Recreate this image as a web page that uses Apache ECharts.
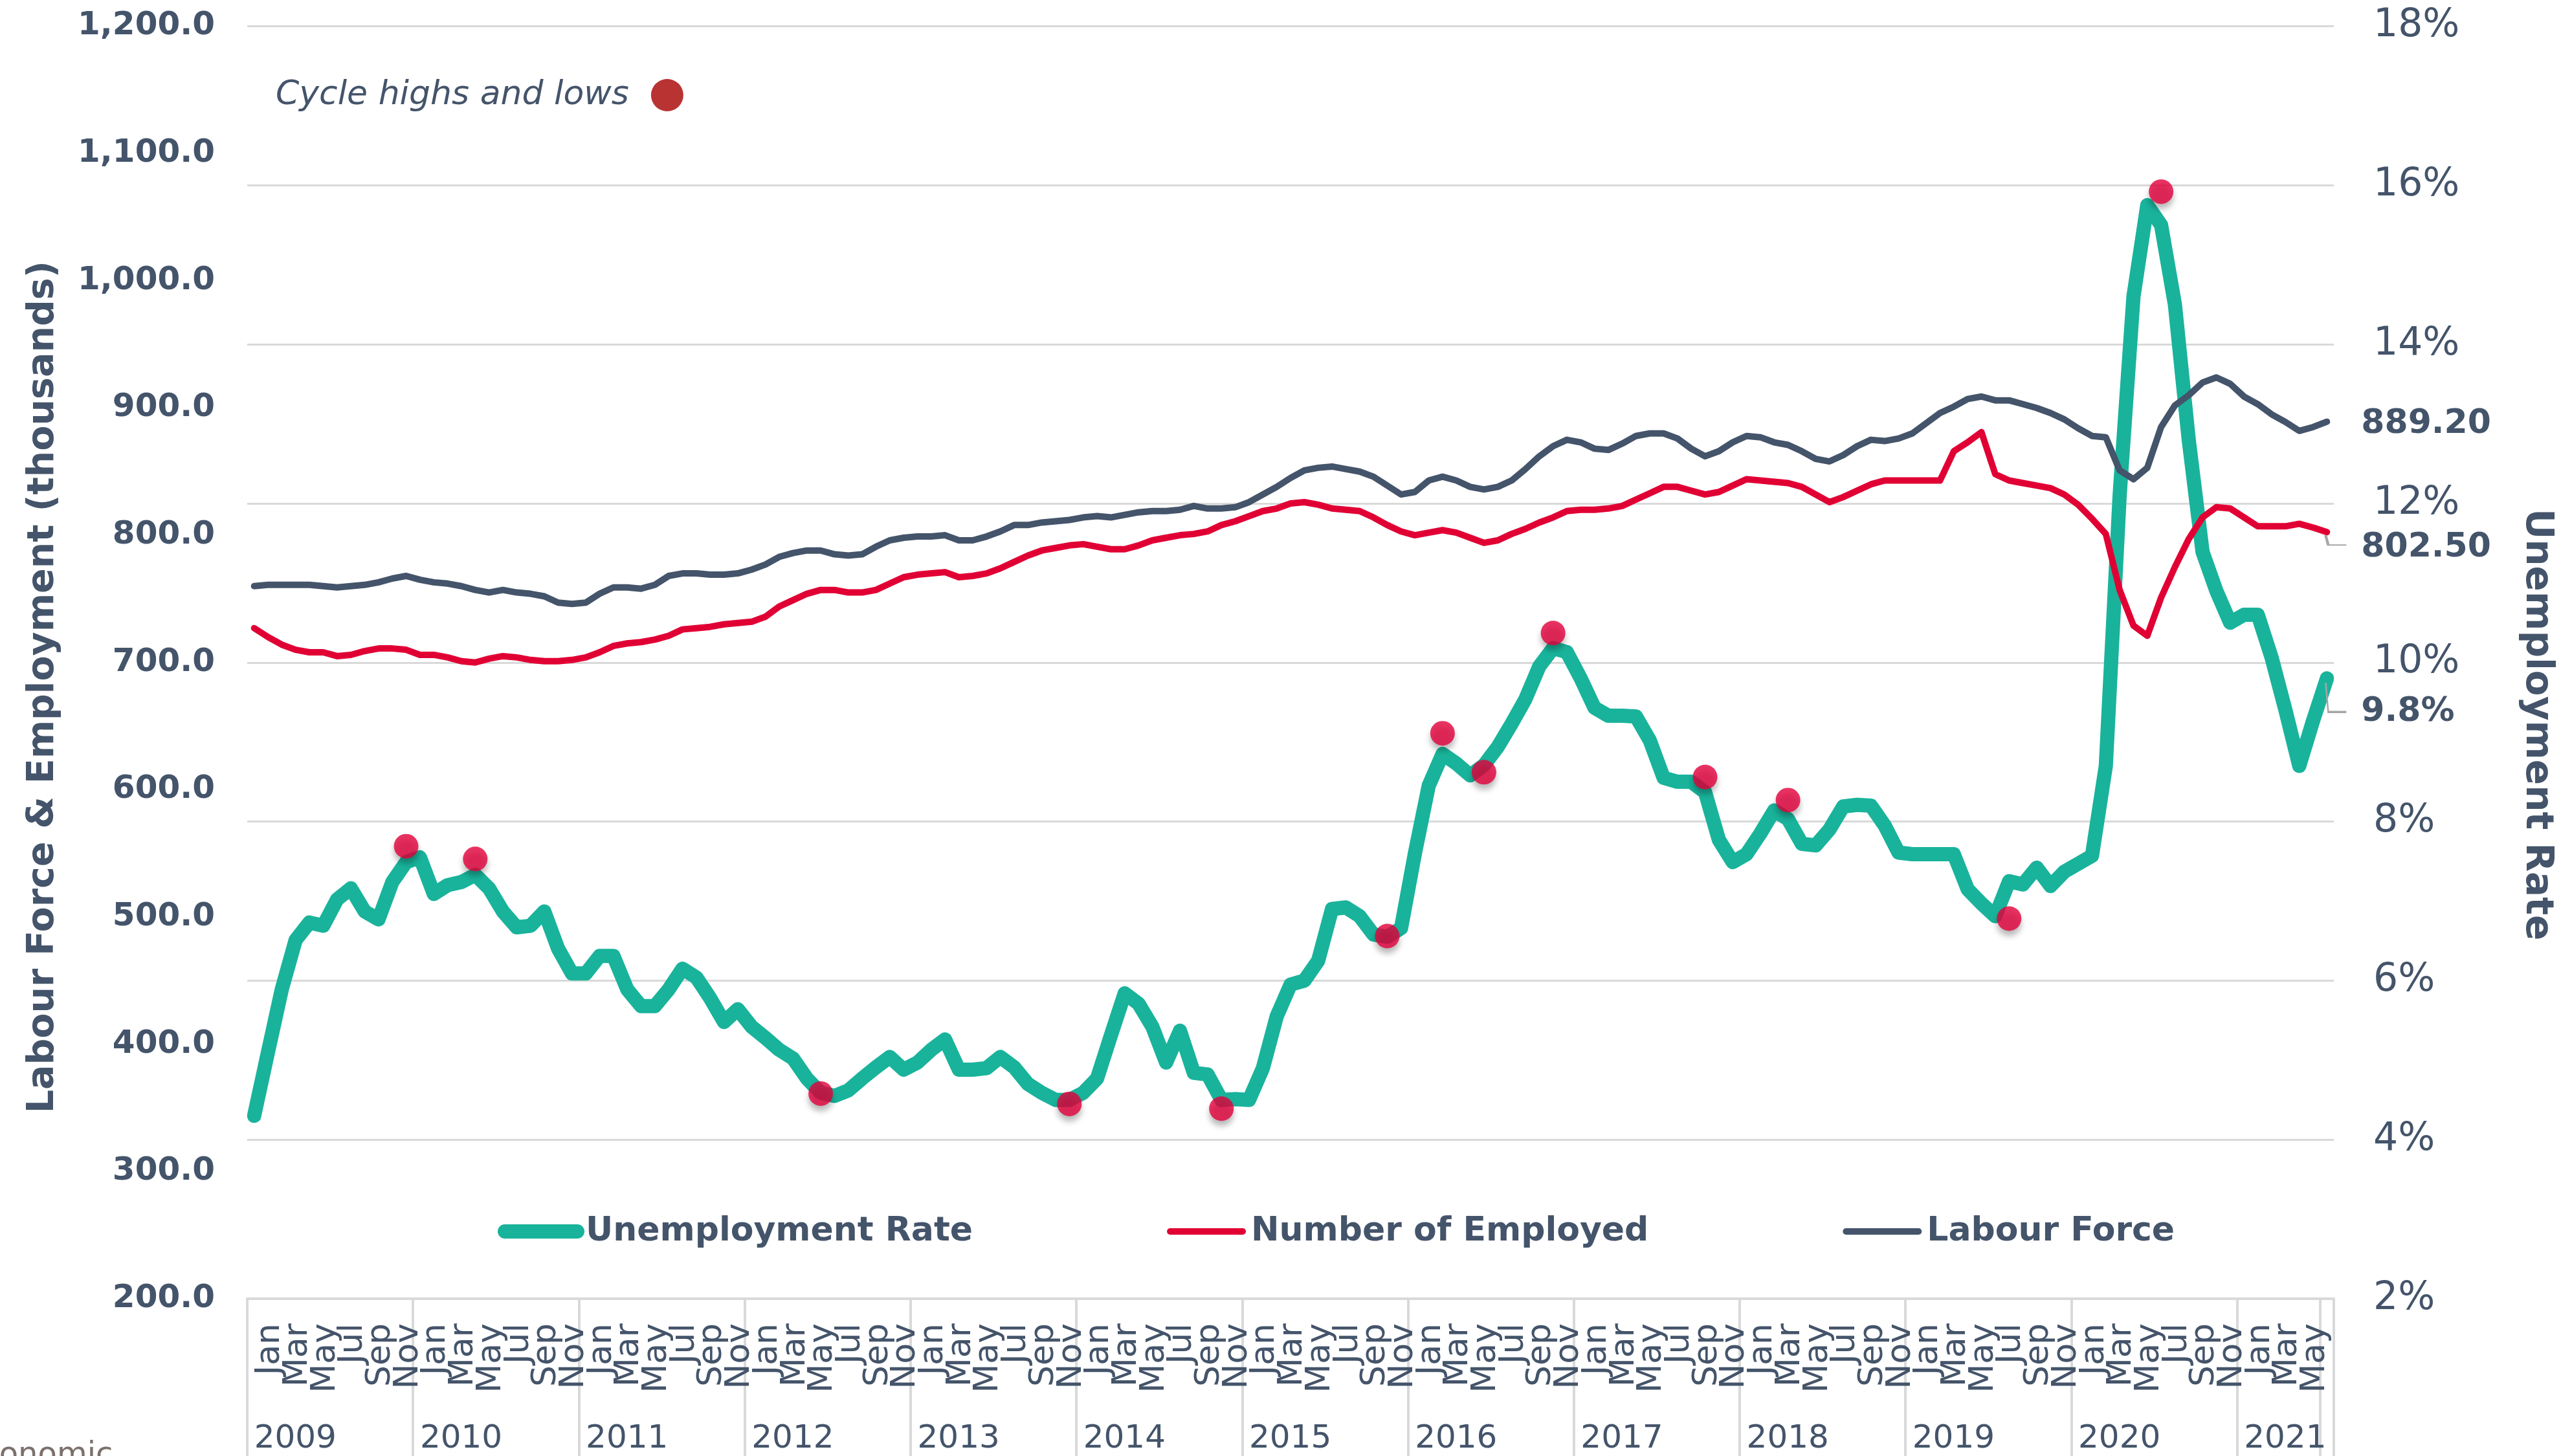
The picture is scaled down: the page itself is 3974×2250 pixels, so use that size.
<!DOCTYPE html>
<html>
<head>
<meta charset="utf-8">
<script src="https://cdn.jsdelivr.net/npm/echarts@6/dist/echarts.min.js"></script>
<style>
  html, body { margin: 0; padding: 0; background: #fff; }
  #chart { width: 3974px; height: 2250px; }
</style>
</head>
<body>
<div id="chart"></div>
<script>
// tick labels
const monthNames = ["Jan", "Feb", "Mar", "Apr", "May", "Jun", "Jul", "Aug", "Sep", "Oct", "Nov", "Dec"];
const years = [2009, 2010, 2011, 2012, 2013, 2014, 2015, 2016, 2017, 2018, 2019, 2020, 2021];
const monthsIn2021 = 7;

// unemployment rate (%), Jan 2009 .. Jul 2021
const unemploymentRate = [
  4.3, 5.1, 5.89, 6.51, 6.73, 6.69, 7.02, 7.16, 6.87, 6.77, 7.24, 7.49,
  7.55, 7.09, 7.2, 7.24, 7.33, 7.16, 6.87, 6.67, 6.69, 6.87, 6.4, 6.09,
  6.09, 6.31, 6.31, 5.89, 5.68, 5.68, 5.89, 6.15, 6.04, 5.78, 5.48, 5.64,
  5.42, 5.28, 5.13, 5.02, 4.77, 4.59, 4.55, 4.62, 4.77, 4.91, 5.04, 4.88,
  4.97, 5.13, 5.26, 4.88, 4.88, 4.9, 5.04, 4.91, 4.7, 4.59, 4.5, 4.5,
  4.59, 4.77, 5.31, 5.84, 5.71, 5.42, 4.97, 5.37, 4.84, 4.82, 4.5, 4.51,
  4.5, 4.9, 5.55, 5.95, 6.0, 6.25, 6.9, 6.92, 6.81, 6.58, 6.55, 6.66,
  7.6, 8.45, 8.85, 8.73, 8.58, 8.71, 8.94, 9.23, 9.54, 9.95, 10.18, 10.13,
  9.8, 9.43, 9.33, 9.33, 9.32, 9.02, 8.55, 8.5, 8.5, 8.37, 7.77, 7.49,
  7.59, 7.85, 8.14, 8.03, 7.72, 7.7, 7.9, 8.19, 8.21, 8.2, 7.95, 7.61,
  7.59, 7.59, 7.59, 7.59, 7.15, 6.97, 6.81, 7.25, 7.21, 7.42, 7.19, 7.37,
  7.47, 7.57, 8.7, 12.1, 14.6, 15.75, 15.5, 14.5, 12.8, 11.39, 10.9, 10.5,
  10.6, 10.6, 10.06, 9.4, 8.7, 9.27, 9.8
];

// number of employed (thousands)
const employed = [
  727, 720, 714, 710, 708, 708, 705, 706, 709, 711, 711, 710,
  706, 706, 704, 701, 700, 703, 705, 704, 702, 701, 701, 702,
  704, 708, 713, 715, 716, 718, 721, 726, 727, 728, 730, 731,
  732, 736, 744, 749, 754, 757, 757, 755, 755, 757, 762, 767,
  769, 770, 771, 767, 768, 770, 774, 779, 784, 788, 790, 792,
  793, 791, 789, 789, 792, 796, 798, 800, 801, 803, 808, 811,
  815, 819, 821, 825, 826, 824, 821, 820, 819, 814, 808, 803,
  800, 802, 804, 802, 798, 794, 796, 801, 805, 810, 814, 819,
  820, 820, 821, 823, 828, 833, 838, 838, 835, 832, 834, 839,
  844, 843, 842, 841, 838, 832, 826, 830, 835, 840, 843, 843,
  843, 843, 843, 866, 873, 881, 848, 843, 841, 839, 837, 832,
  824, 813, 801, 757, 729, 721, 751, 775, 797, 814, 822, 821,
  814, 807, 807, 807, 809, 806, 802.5
];

// labour force (thousands)
const labourForce = [
  760, 761, 761, 761, 761, 760, 759, 760, 761, 763, 766, 768,
  765, 763, 762, 760, 757, 755, 757, 755, 754, 752, 747, 746,
  747, 754, 759, 759, 758, 761, 768, 770, 770, 769, 769, 770,
  773, 777, 783, 786, 788, 788, 785, 784, 785, 791, 796, 798,
  799, 799, 800, 796, 796, 799, 803, 808, 808, 810, 811, 812,
  814, 815, 814, 816, 818, 819, 819, 820, 823, 821, 821, 822,
  826, 832, 838, 845, 851, 853, 854, 852, 850, 846, 839, 832,
  834, 843, 846, 843, 838, 836, 838, 843, 852, 862, 870, 875,
  873, 868, 867, 872, 878, 880, 880, 876, 868, 862, 866, 873,
  878, 877, 873, 871, 866, 860, 858, 863, 870, 875, 874, 876,
  880, 888, 896, 901, 907, 909, 906, 906, 903, 900, 896, 891,
  884, 878, 877, 851, 844, 853, 885, 902, 910, 920, 924, 919,
  909, 903, 895, 889, 882, 885, 889.2
];

// cycle highs and lows (month index from Jan 2009, rate %)
const cycleMonths = [11, 16, 41, 59, 70, 82, 86, 89, 94, 105, 111, 127, 138];
const cycleValues = [7.69, 7.53, 4.58, 4.45, 4.39, 6.56, 9.11, 8.62, 10.37, 8.56, 8.27, 6.78, 15.92];

const categories = [];
years.forEach(function (y, k) {
  const n = k === years.length - 1 ? monthsIn2021 : 12;
  for (let m = 0; m < n; m++) categories.push(monthNames[m] + " " + y);
});
const lastIdx = categories.length - 1;

const textColor = "#44546a";
const gridColor = "#d9d9d9";
const font = "DejaVu Sans";

function fmtThousands(v) {
  return v.toFixed(1).replace(/\B(?=(\d{3})+(?!\d))/g, ",");
}

const chart = echarts.init(document.getElementById("chart"));

const option = {
  animation: false,
  backgroundColor: "#fff",
  textStyle: { fontFamily: font },
  grid: {
    left: 382,
    right: 368,
    top: 40.5,
    bottom: 243,
    containLabel: false,
    outerBoundsMode: "none"
  },
  legend: [
    {
      data: ["Unemployment Rate", "Number of Employed", "Labour Force"],
      left: 764,
      top: 1872,
      itemWidth: 112,
      itemHeight: 24,
      itemGap: 300,
      itemStyle: { opacity: 0, borderWidth: 0 },
      lineStyle: { width: "inherit", cap: "inherit" },
      textStyle: { color: textColor, fontSize: 52, fontWeight: "bold", fontFamily: font, padding: [0, 0, 0, 8] }
    },
    {
      data: [{
        name: "Cycle highs and lows",
        icon: "circle",
        itemStyle: { color: "#a80000", shadowBlur: 0, shadowOffsetY: 0, shadowColor: "transparent" }
      }],
      align: "right",
      left: 421,
      top: 116,
      itemWidth: 108,
      itemHeight: 50,
      textStyle: { color: textColor, fontSize: 52, fontStyle: "italic", fontFamily: font }
    }
  ],
  xAxis: [
    {
      type: "category",
      data: categories,
      boundaryGap: true,
      axisLine: { show: true, lineStyle: { color: gridColor, width: 4 } },
      axisTick: {
        show: true,
        length: 245,
        interval: function (idx) { return idx % 12 === 0 || idx === lastIdx; },
        lineStyle: { color: gridColor, width: 4 }
      },
      axisLabel: {
        interval: 0,
        formatter: function (v, idx) {
          return idx % 2 === 0 && idx !== lastIdx ? v.split(" ")[0] : "";
        },
        rotate: 90,
        margin: 38,
        verticalAlign: "top",
        lineHeight: 50,
        hideOverlap: false,
        color: textColor,
        fontSize: 52,
        fontFamily: font
      },
      splitLine: { show: false }
    },
    {
      type: "category",
      data: categories,
      position: "bottom",
      boundaryGap: true,
      axisLine: { show: false },
      axisTick: { show: false },
      axisLabel: {
        interval: 0,
        formatter: function (v, idx) { return idx % 12 === 0 ? v.split(" ")[1] : ""; },
        align: "left",
        margin: 192,
        hideOverlap: false,
        color: textColor,
        fontSize: 50,
        fontFamily: font
      },
      splitLine: { show: false }
    }
  ],
  yAxis: [
    {
      type: "value",
      min: 200,
      max: 1200,
      interval: 100,
      position: "left",
      name: "Labour Force & Employment (thousands)",
      nameLocation: "middle",
      nameGap: 286,
      nameTextStyle: { color: textColor, fontSize: 57, fontWeight: "bold", fontFamily: font, padding: [0, 76, 0, 0] },
      axisLine: { show: false },
      axisTick: { show: false },
      splitLine: { show: false },
      axisLabel: {
        formatter: fmtThousands,
        margin: 50,
        color: textColor,
        fontSize: 50,
        fontWeight: "bold",
        fontFamily: font
      }
    },
    {
      type: "value",
      min: 2,
      max: 18,
      interval: 2,
      position: "right",
      name: "Unemployment Rate",
      nameLocation: "middle",
      nameRotate: -90,
      nameGap: 284,
      nameTextStyle: { color: textColor, fontSize: 58, fontWeight: "bold", fontFamily: font, padding: [0, 0, 0, 192] },
      axisLine: { show: false },
      axisTick: { show: false },
      splitLine: { show: true, lineStyle: { color: gridColor, width: 3 } },
      axisLabel: {
        formatter: "{value}%",
        margin: 61,
        color: textColor,
        fontSize: 60,
        fontFamily: font
      }
    }
  ],
  series: [
    {
      name: "Unemployment Rate",
      type: "line",
      yAxisIndex: 1,
      data: unemploymentRate,
      symbol: "none",
      z: 2,
      itemStyle: { color: "#19b39b" },
      lineStyle: { color: "#19b39b", width: 22, cap: "round", join: "round" },
      endLabel: {
        show: true,
        formatter: function (p) { return p.value.toFixed(1) + "%"; },
        distance: 53,
        offset: [0, 52],
        color: textColor,
        fontSize: 52,
        fontWeight: "bold",
        fontFamily: font
      },
      markPoint: {
        silent: true,
        symbol: "path://M0,0 L4,45 L32,45",
        symbolSize: [32, 45],
        symbolOffset: [14, 29.5],
        itemStyle: { color: "transparent", borderColor: "#a6a6a6", borderWidth: 3 },
        label: { show: false },
        data: [{ coord: [categories[lastIdx], unemploymentRate[lastIdx]] }]
      }
    },
    {
      name: "Number of Employed",
      type: "line",
      yAxisIndex: 0,
      data: employed,
      symbol: "none",
      z: 2,
      itemStyle: { color: "#e10034" },
      lineStyle: { color: "#e10034", width: 10, cap: "round", join: "round" },
      endLabel: {
        show: true,
        formatter: function (p) { return p.value.toFixed(2); },
        distance: 53,
        offset: [0, 24],
        color: textColor,
        fontSize: 52,
        fontWeight: "bold",
        fontFamily: font
      },
      markPoint: {
        silent: true,
        symbol: "path://M0,0 L4,15 L32,15",
        symbolSize: [32, 15],
        symbolOffset: [14, 12.5],
        itemStyle: { color: "transparent", borderColor: "#a6a6a6", borderWidth: 3 },
        label: { show: false },
        data: [{ coord: [categories[lastIdx], employed[lastIdx]] }]
      }
    },
    {
      name: "Labour Force",
      type: "line",
      yAxisIndex: 0,
      data: labourForce,
      symbol: "none",
      z: 2,
      itemStyle: { color: textColor },
      lineStyle: { color: textColor, width: 10, cap: "round", join: "round" },
      endLabel: {
        show: true,
        formatter: function (p) { return p.value.toFixed(2); },
        distance: 53,
        offset: [0, 4],
        color: textColor,
        fontSize: 52,
        fontWeight: "bold",
        fontFamily: font
      }
    },
    {
      name: "Cycle highs and lows",
      type: "scatter",
      yAxisIndex: 1,
      data: cycleMonths.map(function (m, k) { return [m, cycleValues[k]]; }),
      symbol: "circle",
      symbolSize: 38,
      z: 5,
      itemStyle: {
        color: "#e4003b",
        shadowBlur: 10,
        shadowOffsetY: 8,
        shadowColor: "rgba(0,0,0,0.35)"
      }
    }
  ],
  graphic: [
    {
      type: "text",
      left: -58,
      top: 2226,
      style: { text: "Economic", fill: "#7b706b", fontSize: 48, fontFamily: font }
    }
  ]
};

chart.setOption(option);
</script>
</body>
</html>
